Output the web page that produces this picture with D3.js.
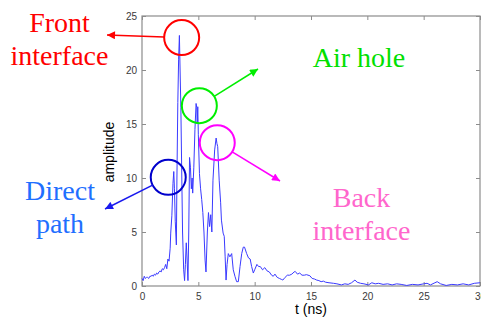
<!DOCTYPE html>
<html>
<head>
<meta charset="utf-8">
<script src="https://cdn.jsdelivr.net/npm/d3@7"></script>
<style>
  html, body { margin: 0; padding: 0; background: #fff; }
  svg { display: block; }
</style>
</head>
<body>
<svg id="chart" width="481" height="320"></svg>
<script>
// ---- data ----
const timeNs = [
  0.0,0.1,0.2,0.3,0.4,0.5,0.6,0.7,0.8,0.9,1.0,1.1,1.2,1.3,1.4,1.5,1.6,1.7,1.8,1.9,2.0,2.1,2.2,2.3,2.4,
  2.5,2.55,2.65,2.75,2.82,2.88,2.95,3.05,3.1,3.18,3.25,3.32,3.38,3.45,3.52,3.6,3.7,3.78,3.85,3.93,4.0,4.08,
  4.15,4.22,4.3,4.38,4.45,4.5,4.6,4.7,4.8,4.86,4.9,4.95,5.0,5.1,5.2,5.3,5.4,5.5,5.6,5.68,5.8,5.9,6.0,6.1,6.2,
  6.3,6.45,6.58,6.65,6.72,6.85,6.98,7.05,7.2,7.3,7.38,7.46,7.55,7.66,7.8,7.96,8.1,8.25,8.4,8.55,8.7,8.85,8.99,
  9.1,9.29,9.45,9.6,9.73,9.88,10.0,10.2,10.35,10.5,10.7,10.9,11.1,11.3,11.5,11.65,11.8,12.0,12.2,12.4,12.5,
  12.7,12.9,13.1,13.3,13.5,13.6,13.8,14.0,14.2,14.4,14.6,14.9,15.1,15.3,15.5,15.7,15.9,16.1,16.3,16.6,17.0,
  17.3,17.7,18.0,18.3,18.6,18.9,19.1,19.4,19.7,20.1,20.4,20.7,21.0,21.4,21.8,22.2,22.6,23.0,23.5,24.0,24.5,
  25.0,25.3,25.6,26.0,26.2,26.5,27.0,27.5,28.0,28.5,29.0,29.5,30.0
];
const amplitude = [
  0.7,0.5,0.9,0.7,0.8,0.8,0.7,0.9,0.9,1.0,0.9,1.1,1.0,1.2,1.1,1.3,1.4,1.3,1.6,1.5,1.7,2.0,1.6,2.5,2.3,
  3.5,4.9,6.5,9.5,10.6,9.0,6.0,3.8,10.0,17.0,21.0,23.2,20.0,16.5,11.0,5.0,1.5,0.5,2.0,4.0,2.5,0.5,
  5.0,11.9,11.0,9.0,10.0,8.6,11.0,14.5,16.9,16.5,15.0,16.6,14.0,10.4,9.0,8.0,6.8,5.0,2.4,1.3,5.0,6.8,5.5,6.6,5.0,
  9.8,12.6,13.7,13.2,12.9,9.8,7.7,6.1,4.9,4.6,2.7,0.55,2.0,3.0,2.7,3.0,1.5,0.9,0.4,0.4,1.8,3.0,3.6,
  3.6,3.0,2.6,2.5,1.8,1.2,1.5,2.0,1.8,1.8,1.5,1.7,1.4,1.3,1.0,0.9,1.1,0.8,0.7,0.6,0.55,
  0.8,1.0,1.0,1.1,1.3,1.35,1.1,1.2,1.0,1.0,1.05,0.95,0.7,0.65,0.55,0.5,0.4,0.45,0.35,0.3,0.25,
  0.2,0.1,0.2,0.15,0.3,0.55,0.35,0.25,0.2,0.1,0.3,0.2,0.25,0.15,0.2,0.1,0.2,0.15,0.05,0.15,0.1,
  0.2,0.25,0.1,0.3,0.4,0.2,0.05,0.15,0.1,0.2,0.1,0.25,0.3
];
const xTicks = [0, 5, 10, 15, 20, 25, 30];
const yTicks = [0, 5, 10, 15, 20, 25];
const xLabel = "t (ns)";
const yLabel = "amplitude";

// annotations: circle centre in data units, label lines
const annoNames   = ["front", "air", "back", "direct"];
const annoT       = [3.52, 5.09, 6.68, 2.33];
const annoA       = [23.0, 16.7, 13.27, 10.06];
const annoLines   = [["Front", "interface"], ["Air hole"], ["Back", "interface"], ["Direct", "path"]];

// ---- layout / style ----
const margin = { left: 142, right: 481 - 480, top: 16, bottom: 320 - 286 };
const W = 481, H = 320;
const svg = d3.select("#chart");

const x = d3.scaleLinear().domain([0, 30]).range([142, 480]);
const y = d3.scaleLinear().domain([0, 25]).range([286, 16]);

const axisColor = "#8c8c8c";
const tickTextColor = "#3a3a3a";
const tickFont = "Liberation Sans, Arial, sans-serif";

// box
svg.append("rect")
  .attr("x", x(0)).attr("y", y(25))
  .attr("width", x(30) - x(0)).attr("height", y(0) - y(25))
  .attr("fill", "none").attr("stroke", axisColor).attr("stroke-width", 1.2);

function styleAxis(g) {
  g.select(".domain").remove();
  g.selectAll(".tick line").attr("stroke", axisColor);
  g.selectAll(".tick text").attr("fill", tickTextColor)
    .attr("font-family", tickFont).attr("font-size", 10);
}

svg.append("g").attr("transform", `translate(0,${y(0)})`)
  .call(d3.axisBottom(x).tickValues(xTicks).tickSize(-4).tickPadding(7).tickFormat(d3.format("d")))
  .call(styleAxis);
svg.append("g").attr("transform", `translate(0,${y(25)})`)
  .call(d3.axisTop(x).tickValues(xTicks).tickSize(-4).tickFormat(""))
  .call(styleAxis);
svg.append("g").attr("transform", `translate(${x(0)},0)`)
  .call(d3.axisLeft(y).tickValues(yTicks).tickSize(-4).tickPadding(5).tickFormat(d3.format("d")))
  .call(styleAxis);
svg.append("g").attr("transform", `translate(${x(30)},0)`)
  .call(d3.axisRight(y).tickValues(yTicks).tickSize(-4).tickFormat(""))
  .call(styleAxis);

// axis labels
svg.append("text")
  .attr("x", (x(0) + x(30)) / 2 + 0).attr("y", 314)
  .attr("text-anchor", "middle")
  .attr("font-family", tickFont).attr("font-size", 14).attr("fill", "#000")
  .text(xLabel);
svg.append("text")
  .attr("transform", `translate(114,152) rotate(-90)`)
  .attr("text-anchor", "middle")
  .attr("font-family", tickFont).attr("font-size", 14).attr("fill", "#000")
  .text(yLabel);

// signal
const pts = timeNs.map((t, i) => [t, amplitude[i]]);
svg.append("path")
  .datum(pts)
  .attr("fill", "none")
  .attr("stroke", "#3a3aff")
  .attr("stroke-width", 1)
  .attr("stroke-linejoin", "round")
  .attr("d", d3.line().x(d => x(d[0])).y(d => y(d[1])));

// annotations
const circleColors = ["#ff0000", "#00ee00", "#ff00ff", "#0000cc"];
const arrowColors  = ["#ff0000", "#00ee00", "#ff00ff", "#1a1aee"];
const textColors   = ["#ff0000", "#00e000", "#ff66cc", "#1f6fff"];
// arrow tips (pixel) and label geometry (pixel)
const arrowTips  = [[107, 35], [258, 69], [280, 181], [105, 209]];
const labelX     = [59.5, 359, 361.5, 60];
const labelY0    = [32, 66.7, 206.7, 200];
const labelStep  = 33;
const R = 17.5;

const defs = svg.append("defs");
annoNames.forEach((n, i) => {
  defs.append("marker")
    .attr("id", "arr-" + n)
    .attr("viewBox", "0 0 10 10")
    .attr("refX", 10).attr("refY", 5)
    .attr("markerWidth", 10).attr("markerHeight", 8)
    .attr("markerUnits", "userSpaceOnUse")
    .attr("orient", "auto")
    .append("path").attr("d", "M0,0 L10,5 L0,10 z").attr("fill", arrowColors[i]);
});

annoNames.forEach((n, i) => {
  const cx = x(annoT[i]), cy = y(annoA[i]);
  svg.append("circle")
    .attr("cx", cx).attr("cy", cy).attr("r", R)
    .attr("fill", "none").attr("stroke", circleColors[i]).attr("stroke-width", 2);
  const [tx, ty] = arrowTips[i];
  const dx = tx - cx, dy = ty - cy, len = Math.hypot(dx, dy);
  const sx = cx + dx / len * R, sy = cy + dy / len * R;
  svg.append("line")
    .attr("x1", sx).attr("y1", sy).attr("x2", tx).attr("y2", ty)
    .attr("stroke", arrowColors[i]).attr("stroke-width", 1.5)
    .attr("marker-end", `url(#arr-${n})`);
  const t = svg.append("text")
    .attr("text-anchor", "middle")
    .attr("font-family", "Liberation Serif, Times New Roman, serif")
    .attr("font-size", 28)
    .attr("fill", textColors[i]);
  annoLines[i].forEach((line, k) => {
    t.append("tspan").attr("x", labelX[i]).attr("y", labelY0[i] + k * labelStep).text(line);
  });
});
</script>
</body>
</html>
